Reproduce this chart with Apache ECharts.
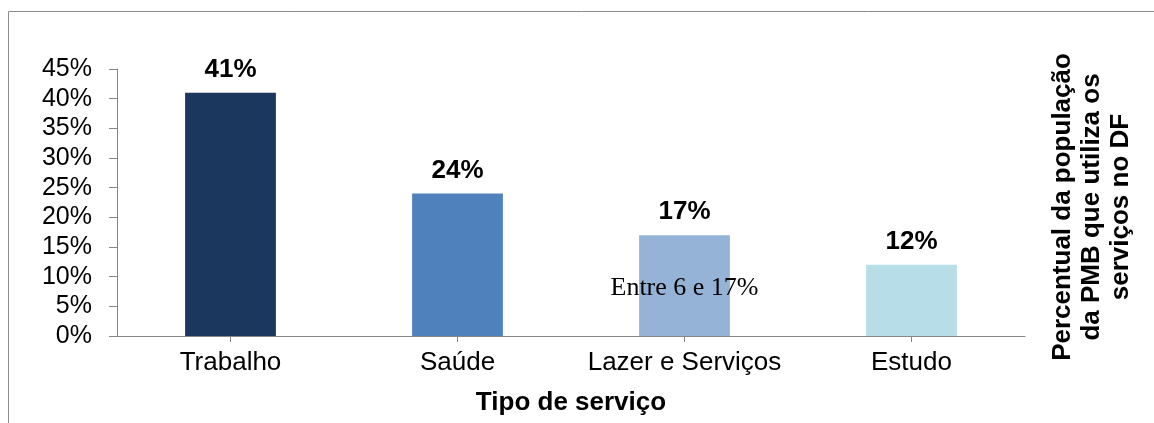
<!DOCTYPE html>
<html>
<head>
<meta charset="utf-8">
<script src="https://cdn.jsdelivr.net/npm/echarts@6/dist/echarts.min.js"></script>
<style>
  html, body { margin: 0; padding: 0; background: #fff; }
  #chart { width: 1154px; height: 423px; }
</style>
</head>
<body>
<div id="chart"></div>
<script>
  // dados
  var categorias = ['Trabalho', 'Saúde', 'Lazer e Serviços', 'Estudo']
  var valores = [41, 24, 17, 12]
  var cores = ['#1b375e', '#4f81bd', '#95b3d7', '#b7dde8']
  var yTicks = [0, 5, 10, 15, 20, 25, 30, 35, 40, 45]

  var chart = echarts.init(document.getElementById('chart'))
  var option = {
    animation: false,
    textStyle: { fontFamily: 'Liberation Sans, Arial, sans-serif' },
    grid: { left: 117, right: 129, top: 69, bottom: 87 },
    graphic: [
      {
        type: 'rect',
        shape: { x: 8.5, y: 11.5, width: 1200, height: 500 },
        style: { fill: 'none', stroke: '#8c8c8c', lineWidth: 1 },
        silent: true
      },
      {
        type: 'text',
        x: 1092,
        y: 207,
        rotation: Math.PI / 2,
        style: {
          text: 'Percentual da população\nda PMB que utiliza os\nserviços no DF',
          font: 'bold 26px "Liberation Sans", Arial, sans-serif',
          fill: '#000',
          align: 'center',
          verticalAlign: 'middle',
          lineHeight: 29
        }
      }
    ],
    xAxis: {
      type: 'category',
      data: categorias,
      name: 'Tipo de serviço',
      nameLocation: 'middle',
      nameGap: 54,
      nameTextStyle: { fontSize: 26, fontWeight: 'bold', color: '#000' },
      axisLine: { lineStyle: { color: '#868686' } },
      axisTick: { show: true, alignWithLabel: true, length: 6, lineStyle: { color: '#868686' } },
      axisLabel: { fontSize: 26, color: '#000', margin: 14, interval: 0 }
    },
    yAxis: {
      type: 'value',
      min: yTicks[0],
      max: yTicks[yTicks.length - 1],
      interval: 5,
      splitLine: { show: false },
      axisLine: { show: true, lineStyle: { color: '#868686' } },
      axisTick: { show: true, length: 8, lineStyle: { color: '#868686' } },
      axisLabel: { fontSize: 25, color: '#000', margin: 25, formatter: '{value}%' }
    },
    series: [{
      type: 'bar',
      barWidth: '40%',
      data: valores.map(function (v, i) {
        return { value: v, itemStyle: { color: cores[i] } }
      }),
      label: {
        show: true,
        position: 'top',
        distance: 10,
        fontSize: 26,
        fontWeight: 'bold',
        color: '#000',
        formatter: '{c}%'
      },
      markPoint: {
        symbol: 'rect',
        symbolSize: 1,
        itemStyle: { color: 'rgba(0,0,0,0)' },
        data: [{
          coord: ['Lazer e Serviços', 8],
          label: {
            show: true,
            position: 'inside',
            formatter: 'Entre 6 e 17%',
            fontFamily: 'Liberation Serif, Times New Roman, serif',
            fontSize: 26,
            color: '#000'
          }
        }]
      }
    }]
  }
  chart.setOption(option)
</script>
</body>
</html>
